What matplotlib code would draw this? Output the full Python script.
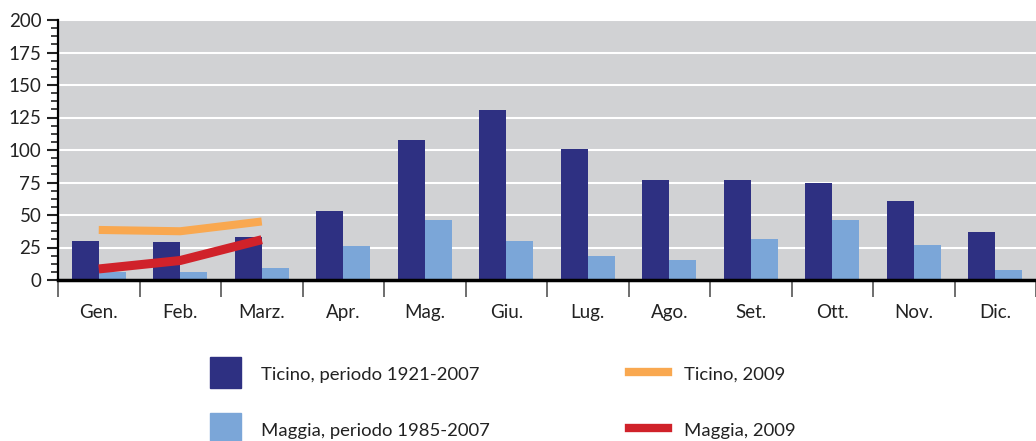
import matplotlib.pyplot as plt
from matplotlib.patches import Rectangle
from matplotlib.lines import Line2D
import numpy as np

months = ['Gen.', 'Feb.', 'Marz.', 'Apr.', 'Mag.', 'Giu.', 'Lug.', 'Ago.',
          'Set.', 'Ott.', 'Nov.', 'Dic.']
ticino_mean = [30, 29, 33, 53, 108, 131, 101, 77, 77, 75, 61, 37]
maggia_mean = [6.5, 6, 9, 26, 46, 30, 18.5, 15.5, 31.5, 46, 27, 7.5]
ticino_2009 = [38.5, 37.5, 45]
maggia_2009 = [8.5, 15, 31]

dark = '#2e3082'
light = '#7ba6d8'
orange = '#f9a850'
red = '#d0222a'

plt.rcParams['font.family'] = ['Lato', 'DejaVu Sans']

fig = plt.figure(figsize=(10.36, 4.41), dpi=100)
ax = fig.add_axes([58 / 1036, (441 - 280) / 441, 1 - 58 / 1036, 260 / 441])
ax.set_facecolor('#d1d2d4')

x = np.arange(len(months))
w = 0.33
ax.bar(x - w / 2, ticino_mean, w, color=dark, zorder=2)
ax.bar(x + w / 2, maggia_mean, w, color=light, zorder=2)
ax.plot(x[:3], ticino_2009, color=orange, lw=5.8, zorder=3, solid_capstyle='butt')
ax.plot(x[:3], maggia_2009, color=red, lw=6.5, zorder=4, solid_capstyle='butt')

ax.set_ylim(0, 200)
ax.set_xlim(-0.5, 11.37)
ax.set_yticks(np.arange(0, 201, 25))
ax.set_yticks(np.arange(0, 201, 6.25), minor=True)
ax.grid(axis='y', color='white', lw=1.5, zorder=1)
ax.tick_params(axis='y', which='major', length=8, width=1.5, labelsize=13.5,
               pad=4, colors='#222222')
ax.tick_params(axis='y', which='minor', length=5, width=1.2, color='#222222')

ax.set_xticks(np.arange(-0.5, 12, 1))
ax.set_xticklabels([])
ax.set_xticks(x, minor=True)
ax.set_xticklabels(months, minor=True)
ax.tick_params(axis='x', which='major', length=12, width=1.2, color='#555555',
               direction='out')
ax.tick_params(axis='x', which='minor', length=0, pad=17, labelsize=13.5,
               colors='#222222')

for s in ['top', 'right']:
    ax.spines[s].set_visible(False)
ax.spines['left'].set_linewidth(1.6)
ax.spines['bottom'].set_linewidth(2.5)
ax.spines['left'].set_zorder(5)
ax.spines['bottom'].set_zorder(5)

# legend
W, H = 1036, 441
def fx(px):
    return px / W
def fy(py):
    return 1 - py / H

fig.patches.append(Rectangle((fx(210), fy(388)), 31 / W, 31 / H, color=dark,
                             transform=fig.transFigure))
fig.patches.append(Rectangle((fx(210), fy(444)), 31 / W, 31 / H, color=light,
                             transform=fig.transFigure))
fig.lines.append(Line2D([fx(629), fx(668)], [fy(372), fy(372)], color=orange,
                        lw=6, transform=fig.transFigure))
fig.lines.append(Line2D([fx(629), fx(668)], [fy(428), fy(428)], color=red,
                        lw=6, transform=fig.transFigure))
fig.text(fx(261), fy(375), 'Ticino, periodo 1921-2007', fontsize=13.3,
         va='center', color='#222222')
fig.text(fx(261), fy(431), 'Maggia, periodo 1985-2007', fontsize=13.3,
         va='center', color='#222222')
fig.text(fx(684), fy(375), 'Ticino, 2009', fontsize=13.3, va='center',
         color='#222222')
fig.text(fx(684), fy(431), 'Maggia, 2009', fontsize=13.3, va='center',
         color='#222222')

fig.savefig('out.png', dpi=100)
